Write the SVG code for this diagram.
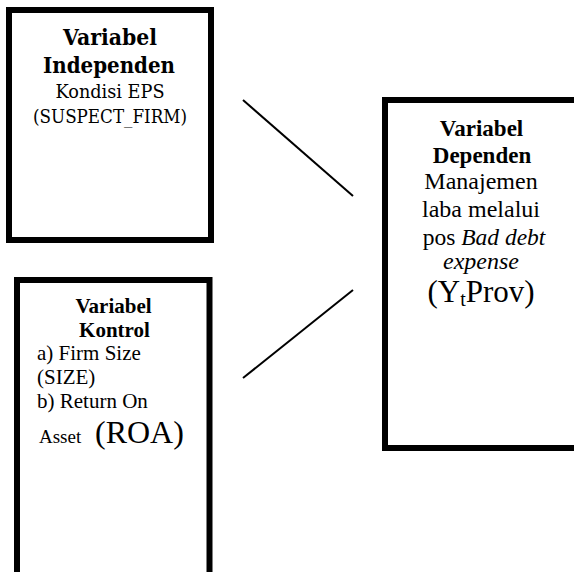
<svg xmlns="http://www.w3.org/2000/svg" width="574" height="572" viewBox="0 0 574 572">
<style>
.box{fill:#fff;stroke:#000;stroke-width:6}
.b{font-weight:bold}
.c{text-anchor:middle}
.conn line{stroke:#000;stroke-width:2}
</style>
<rect width="574" height="572" fill="#fff"/>
<g id="independen" font-family="DejaVu Serif, serif">
<rect class="box" x="9" y="10" width="202" height="230"/>
<text class="b c" x="110" y="45" font-size="22" textLength="94" lengthAdjust="spacingAndGlyphs">Variabel</text>
<text class="b c" x="109" y="73" font-size="22" textLength="132" lengthAdjust="spacingAndGlyphs">Independen</text>
<text class="c" x="110" y="98" font-size="19" textLength="109" lengthAdjust="spacingAndGlyphs">Kondisi EPS</text>
<text class="c" x="110" y="123" font-size="19" textLength="154" lengthAdjust="spacingAndGlyphs">(SUSPECT_FIRM)</text>
</g>
<g id="kontrol" font-family="Liberation Serif, serif">
<rect class="box" x="17" y="280" width="192.5" height="300"/>
<text class="b c" x="113.5" y="313" font-size="21">Variabel</text>
<text class="b c" x="114.5" y="337" font-size="21">Kontrol</text>
<text x="37" y="360" font-size="21">a) Firm Size</text>
<text x="37" y="384" font-size="21">(SIZE)</text>
<text x="37" y="408" font-size="21">b) Return On</text>
<text x="39" y="443" font-size="19">Asset</text>
<text x="95" y="443" font-size="32">(ROA)</text>
</g>
<g id="dependen" font-family="Liberation Serif, serif">
<rect class="box" x="385" y="100" width="200" height="348"/>
<text class="b c" x="481.5" y="136" font-size="23">Variabel</text>
<text class="b c" x="482" y="163" font-size="23">Dependen</text>
<text class="c" x="481" y="189" font-size="24">Manajemen</text>
<text class="c" x="481" y="217" font-size="24">laba melalui</text>
<text class="c" x="484" y="245" font-size="23.5">pos <tspan font-style="italic">Bad debt</tspan></text>
<text class="c" x="481" y="269" font-size="24" font-style="italic">expense</text>
<text class="c" x="481" y="302" font-size="31">(Y<tspan font-size="20" dy="4">t</tspan><tspan dy="-4">Prov)</tspan></text>
</g>
<g id="connectors" class="conn">
<line x1="243" y1="100" x2="353" y2="196"/>
<line x1="353" y1="290" x2="243" y2="378"/>
</g>
</svg>
